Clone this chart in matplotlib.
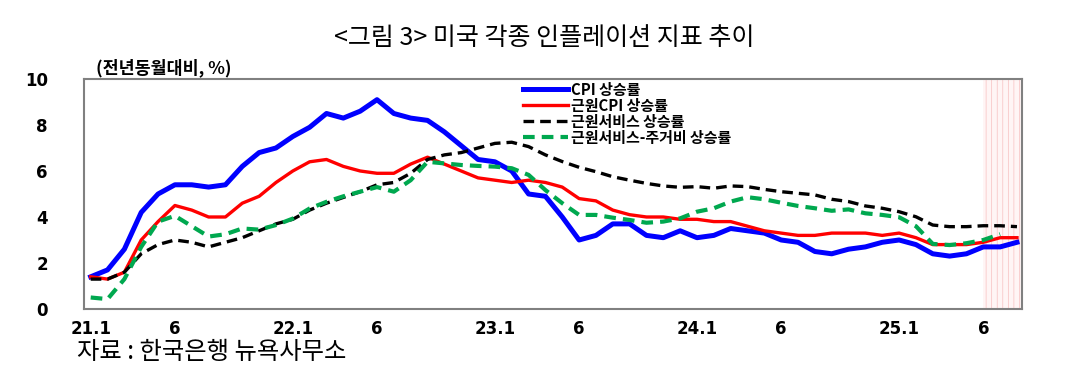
import matplotlib
matplotlib.use('Agg')
import matplotlib.pyplot as plt
import numpy as np

plt.rcParams['font.family'] = ['Noto Sans CJK KR', 'DejaVu Sans']

# monthly, 2021.1 ~ 2025.8 (전년동월대비, %)
cpi = [1.4, 1.7, 2.6, 4.2, 5.0, 5.4, 5.4, 5.3, 5.4, 6.2, 6.8, 7.0,
       7.5, 7.9, 8.5, 8.3, 8.6, 9.1, 8.5, 8.3, 8.2, 7.7, 7.1, 6.5,
       6.4, 6.0, 5.0, 4.9, 4.0, 3.0, 3.2, 3.7, 3.7, 3.2, 3.1, 3.4,
       3.1, 3.2, 3.5, 3.4, 3.3, 3.0, 2.9, 2.5, 2.4, 2.6, 2.7, 2.9,
       3.0, 2.8, 2.4, 2.3, 2.4, 2.7, 2.7, 2.9]
core_cpi = [1.4, 1.3, 1.6, 3.0, 3.8, 4.5, 4.3, 4.0, 4.0, 4.6, 4.9, 5.5,
            6.0, 6.4, 6.5, 6.2, 6.0, 5.9, 5.9, 6.3, 6.6, 6.3, 6.0, 5.7,
            5.6, 5.5, 5.6, 5.5, 5.3, 4.8, 4.7, 4.3, 4.1, 4.0, 4.0, 3.9,
            3.9, 3.8, 3.8, 3.6, 3.4, 3.3, 3.2, 3.2, 3.3, 3.3, 3.3, 3.2,
            3.3, 3.1, 2.8, 2.8, 2.8, 2.9, 3.1, 3.1]
core_services = [1.3, 1.3, 1.6, 2.4, 2.8, 3.0, 2.9, 2.7, 2.9, 3.1, 3.4, 3.7,
                 3.9, 4.3, 4.6, 4.85, 5.1, 5.4, 5.5, 5.9, 6.5, 6.7, 6.8, 7.0,
                 7.2, 7.25, 7.06, 6.7, 6.41, 6.16, 5.97, 5.75, 5.6, 5.46, 5.35, 5.29,
                 5.32, 5.25, 5.35, 5.32, 5.2, 5.1, 5.03, 4.96, 4.77, 4.67, 4.48, 4.38,
                 4.23, 4.01, 3.65, 3.58, 3.58, 3.62, 3.62, 3.58]
supercore = [0.5, 0.43, 1.3, 2.7, 3.8, 4.05, 3.6, 3.15, 3.25, 3.5, 3.45, 3.65,
             3.93, 4.37, 4.66, 4.9, 5.1, 5.3, 5.1, 5.6, 6.4, 6.33, 6.26, 6.22,
             6.19, 6.12, 5.83, 5.17, 4.6, 4.09, 4.09, 3.97, 3.87, 3.75, 3.8, 3.94,
             4.23, 4.38, 4.67, 4.86, 4.77, 4.62, 4.48, 4.38, 4.27, 4.33, 4.16, 4.09,
             3.99, 3.6, 2.83, 2.78, 2.86, 3.0, 3.25]

tick_pos = [0, 5, 12, 17, 24, 29, 36, 41, 48, 53]
tick_labels = ['21.1', '6', '22.1', '6', '23.1', '6', '24.1', '6', '25.1', '6']
shade_start = 53

fig = plt.figure(figsize=(10.89, 3.79), dpi=100)
ax = fig.add_axes([0.0771, 0.1847, 0.8614, 0.6069])

x = np.arange(len(cpi))
xs = np.arange(len(supercore))

plt.rcParams['hatch.linewidth'] = 0.5
ax.axvspan(shade_start, 55.3, facecolor='#fff5f5', edgecolor='#f7c0c0',
           hatch='|||', linewidth=0, zorder=0)

ax.plot(x, cpi, color='#0000ff', lw=3.6, label='CPI 상승률', zorder=3)
ax.plot(x, core_cpi, color='#ff0000', lw=2.4, label='근원CPI 상승률', zorder=3)
ax.plot(x, core_services, color='black', lw=2.4, dashes=(3.2, 1.8),
        label='근원서비스 상승률', zorder=3)
ax.plot(xs, supercore, color='#00a84f', lw=3.0, dashes=(2.8, 1.7),
        label='근원서비스-주거비 상승률', zorder=3)

ax.set_xlim(-0.4, 55.3)
ax.set_ylim(0, 10)
ax.set_yticks([0, 2, 4, 6, 8, 10])
ax.set_yticklabels(['0', '2', '4', '6', '8', '10'], fontweight='bold',
                   fontsize=12, family='DejaVu Sans')
ax.set_xticks(tick_pos)
ax.set_xticklabels(tick_labels, fontweight='bold', fontsize=12,
                   family='DejaVu Sans')
ax.tick_params(axis='y', length=0, pad=26)
ax.tick_params(axis='x', length=0, pad=8)
for s in ax.spines.values():
    s.set_color('#808080')
    s.set_linewidth(1.5)

leg = ax.legend(loc='upper left', bbox_to_anchor=(0.462, 1.015), frameon=False,
                borderaxespad=0, handlelength=3.0, handletextpad=0.15,
                labelspacing=0.0, prop={'family': 'Noto Sans CJK KR',
                                        'weight': 'bold', 'size': 10.8})

fig.text(0.5, 0.9, '<그림 3> 미국 각종 인플레이션 지표 추이', ha='center',
         va='center', fontsize=18)
fig.text(0.088, 0.82, '(전년동월대비, %)', ha='left', va='center',
         fontsize=12.5, fontweight='bold')
fig.text(0.071, 0.07, '자료 : 한국은행 뉴욕사무소', ha='left', va='center',
         fontsize=17.5)

fig.savefig('out.png', dpi=100)
plt.close(fig)
